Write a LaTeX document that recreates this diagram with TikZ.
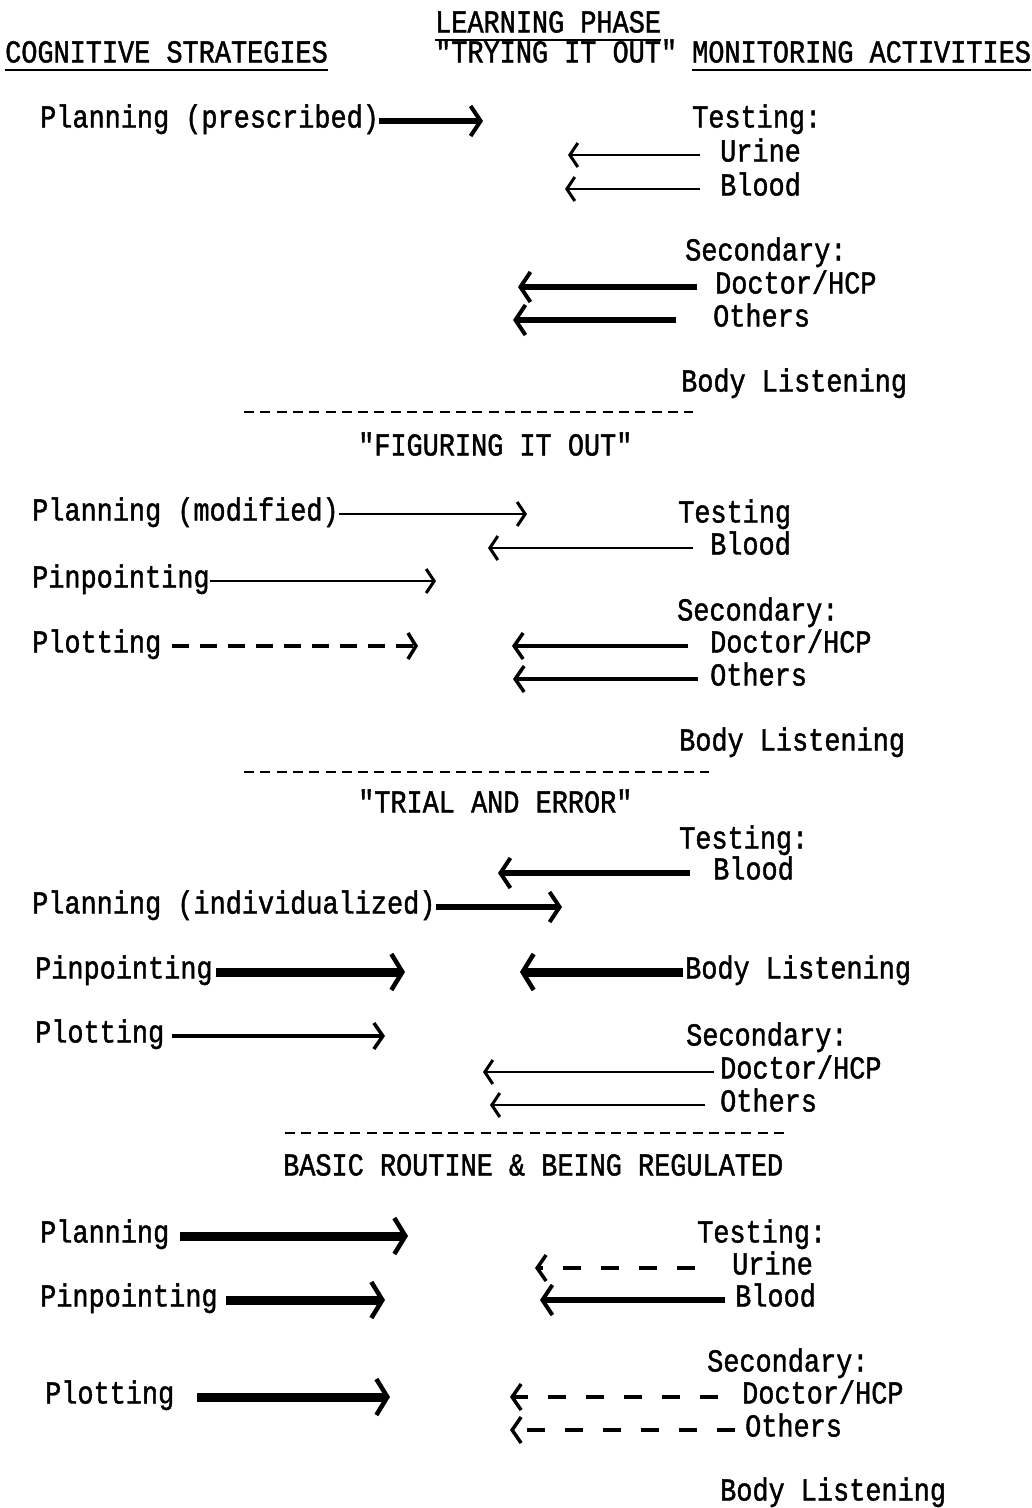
\documentclass[tikz,border=0pt]{standalone}
\usepackage{fontspec}
\setmonofont{Liberation Mono}[FakeStretch=0.84,FakeBold=1.3]
\usetikzlibrary{arrows.meta}
\begin{document}
\begin{tikzpicture}[x=1pt,y=-1pt,
  lbl/.style={font=\ttfamily\fontsize{32}{36}\selectfont, inner sep=0pt,
    text height=20pt, text depth=7pt, anchor=west},
  uline/.style={line width=2pt},
  sep/.style={line width=2pt, dash pattern=on 10pt off 6.3pt},
  arA/.style={line width=2.6pt, -{Straight Barb[length=8pt,width=24pt,line width=3pt]}},
  arB/.style={line width=4pt, -{Straight Barb[length=9pt,width=26pt,line width=3.5pt]}},
  arC/.style={line width=6.5pt, -{Straight Barb[length=10pt,width=30pt,line width=4pt]}},
  arD/.style={line width=9pt, -{Straight Barb[length=11pt,width=36pt,line width=4.5pt]}},
  dashA/.style={line width=3.5pt, dash pattern=on 17pt off 11pt,
    -{Straight Barb[length=8pt,width=26pt,line width=3.5pt]}},
  dashB/.style={line width=3.5pt, dash pattern=on 18pt off 20pt,
    -{Straight Barb[length=9pt,width=26pt,line width=3.5pt]}}
]
\useasboundingbox (0,0) rectangle (1032,1508);

% ---------- headings ----------
\node[lbl] (lp)  at (435,26) {LEARNING PHASE};
\node[lbl] (cs)  at (5,56)   {COGNITIVE STRATEGIES};
\node[lbl] (tio) at (435,56) {"TRYING IT OUT"};
\node[lbl] (ma)  at (692,56) {MONITORING ACTIVITIES};
\draw[uline] (lp.south west) -- (lp.south east);
\draw[uline] (cs.south west) -- (cs.south east);
\draw[uline] (ma.south west) -- (ma.south east);

% ---------- trying it out ----------
\node[lbl] (pl1) at (40,121)  {Planning (prescribed)};
\node[lbl] (te1) at (692,121) {Testing:};
\node[lbl] (ur1) at (720,155) {Urine};
\node[lbl] (bl1) at (720,189) {Blood};
\node[lbl] (se1) at (685,254) {Secondary:};
\node[lbl] (dr1) at (715,287) {Doctor/HCP};
\node[lbl] (ot1) at (713,320) {Others};
\node[lbl] (bo1) at (681,385) {Body Listening};
\coordinate (h1) at (483,121);
\coordinate (u1) at (568,155);
\coordinate (b1) at (565,189);
\coordinate (d1) at (518,287);
\coordinate (o1) at (513,320);
\draw[arC] (pl1.east) -- (h1);
\draw[arA] ([xshift=-20pt]ur1.west) -- (u1);
\draw[arA] ([xshift=-20pt]bl1.west) -- (b1);
\draw[arC] ([xshift=-18pt]dr1.west) -- (d1);
\draw[arC] ([xshift=-37pt]ot1.west) -- (o1);

\draw[sep] (244,412) -- (693,412);

% ---------- figuring it out ----------
\node[lbl] (fi)  at (358,449) {"FIGURING IT OUT"};
\node[lbl] (pl2) at (32,514)  {Planning (modified)};
\node[lbl] (te2) at (678,516) {Testing};
\node[lbl] (bl2) at (710,548) {Blood};
\node[lbl] (pp2) at (32,581)  {Pinpointing};
\node[lbl] (se2) at (677,614) {Secondary:};
\node[lbl] (pt2) at (32,646)  {Plotting};
\node[lbl] (dr2) at (710,646) {Doctor/HCP};
\node[lbl] (ot2) at (710,679) {Others};
\node[lbl] (bo2) at (679,744) {Body Listening};
\coordinate (h2) at (527,514);
\coordinate (b2) at (488,548);
\coordinate (p2) at (436,581);
\coordinate (t2) at (418,646);
\coordinate (d2) at (512,646);
\coordinate (o2) at (513,679);
\draw[arA] (pl2.east) -- (h2);
\draw[arA] ([xshift=-17pt]bl2.west) -- (b2);
\draw[arA] (pp2.east) -- (p2);
\draw[dashA] ([xshift=11pt]pt2.east) -- (t2);
\draw[arB] ([xshift=-22pt]dr2.west) -- (d2);
\draw[arB] ([xshift=-12pt]ot2.west) -- (o2);

\draw[sep] (244,772) -- (709,772);

% ---------- trial and error ----------
\node[lbl] (tr)  at (358,806) {"TRIAL AND ERROR"};
\node[lbl] (te3) at (679,842) {Testing:};
\node[lbl] (bl3) at (713,873) {Blood};
\node[lbl] (pl3) at (32,907)  {Planning (individualized)};
\node[lbl] (pp3) at (35,972)  {Pinpointing};
\node[lbl] (bo3) at (685,972) {Body Listening};
\node[lbl] (pt3) at (35,1036) {Plotting};
\node[lbl] (se3) at (686,1039) {Secondary:};
\node[lbl] (dr3) at (720,1072) {Doctor/HCP};
\node[lbl] (ot3) at (720,1105) {Others};
\coordinate (b3) at (498,873);
\coordinate (h3) at (562,907);
\coordinate (p3) at (405,972);
\coordinate (y3) at (520,972);
\coordinate (t3) at (385,1036);
\coordinate (d3) at (483,1072);
\coordinate (o3) at (490,1105);
\draw[arC] ([xshift=-23pt]bl3.west) -- (b3);
\draw[arC] (pl3.east) -- (h3);
\draw[arD] ([xshift=3pt]pp3.east) -- (p3);
\draw[arD] ([xshift=-2pt]bo3.west) -- (y3);
\draw[arB] ([xshift=8pt]pt3.east) -- (t3);
\draw[arA] ([xshift=-6pt]dr3.west) -- (d3);
\draw[arA] ([xshift=-15pt]ot3.west) -- (o3);

\draw[sep] (285,1133) -- (790,1133);

% ---------- basic routine ----------
\node[lbl] (br)  at (283,1169) {BASIC ROUTINE \& BEING REGULATED};
\node[lbl] (pl4) at (40,1236)  {Planning};
\node[lbl] (te4) at (697,1236) {Testing:};
\node[lbl] (ur4) at (732,1268) {Urine};
\node[lbl] (pp4) at (40,1300)  {Pinpointing};
\node[lbl] (bl4) at (735,1300) {Blood};
\node[lbl] (se4) at (707,1365) {Secondary:};
\node[lbl] (pt4) at (45,1397)  {Plotting};
\node[lbl] (dr4) at (742,1397) {Doctor/HCP};
\node[lbl] (ot4) at (745,1430) {Others};
\node[lbl] (bo4) at (720,1494) {Body Listening};
\coordinate (h4) at (408,1236);
\coordinate (u4) at (535,1268);
\coordinate (p4) at (385,1300);
\coordinate (b4) at (540,1300);
\coordinate (t4) at (390,1397);
\coordinate (d4) at (510,1397);
\coordinate (o4) at (510,1430);
\draw[arD] ([xshift=11pt]pl4.east) -- (h4);
\draw[dashB] ([xshift=-37pt]ur4.west) -- (u4);
\draw[arD] ([xshift=8pt]pp4.east) -- (p4);
\draw[arC] ([xshift=-10pt]bl4.west) -- (b4);
\draw[arD] ([xshift=23pt]pt4.east) -- (t4);
\draw[dashB] ([xshift=-24pt]dr4.west) -- (d4);
\draw[dashB] ([xshift=-10pt]ot4.west) -- (o4);
\end{tikzpicture}
\end{document}
